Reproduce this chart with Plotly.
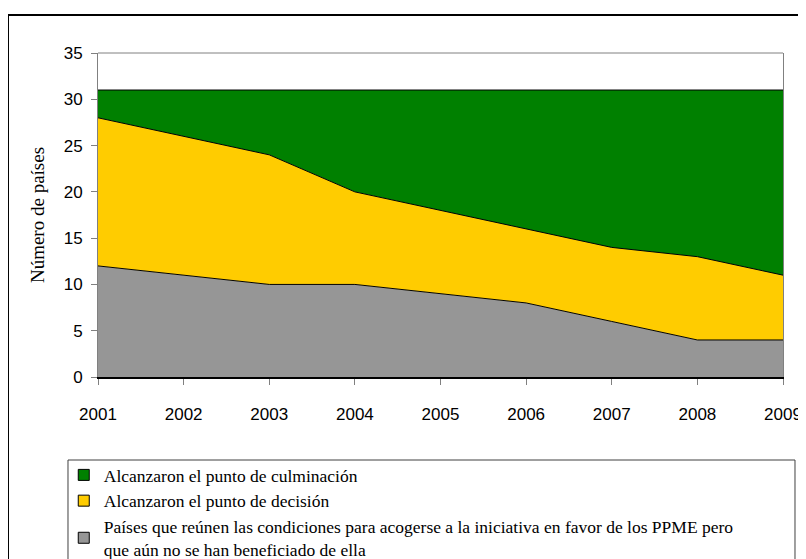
import plotly.graph_objects as go

# Countries by HIPC stage, 2001-2009 (stacked)
years = [2001, 2002, 2003, 2004, 2005, 2006, 2007, 2008, 2009]
eligible = [12, 11, 10, 10, 9, 8, 6, 4, 4]
decision = [16, 15, 14, 10, 9, 8, 8, 9, 7]
completion = [3, 5, 7, 11, 13, 15, 17, 18, 20]

names = [
    "Países que reúnen las condiciones para acogerse a la iniciativa en favor de los PPME pero<br>que aún no se han beneficiado de ella",
    "Alcanzaron el punto de decisión",
    "Alcanzaron el punto de culminación",
]
colors = ["#969696", "#FFCC00", "#008000"]

serif = "Liberation Serif, Times New Roman, serif"
sans = "Liberation Sans, Arial, sans-serif"

fig = go.Figure()
for vals, name, color in zip([eligible, decision, completion], names, colors):
    fig.add_trace(go.Scatter(
        x=years, y=vals, name=name, mode="lines",
        stackgroup="one", fillcolor=color,
        line=dict(color="black", width=1),
        showlegend=False,
    ))

# legend entries with small square swatches
for name, color in zip(names, colors):
    fig.add_trace(go.Scatter(
        x=[None], y=[None], name=name, mode="markers",
        marker=dict(symbol="square", size=11, color=color, line=dict(color="black", width=1)),
    ))

# page body adds an 8px offset, margins compensate for it
fig.update_layout(
    width=806, height=559,
    margin=dict(l=90, r=31, t=45, b=190, autoexpand=False),
    plot_bgcolor="white", paper_bgcolor="white",
    showlegend=True,
    legend=dict(
        traceorder="reversed",
        x=-0.05, xanchor="left", y=-0.247, yanchor="top",
        font=dict(family=serif, size=17.5, color="black"),
        tracegroupgap=0, itemwidth=30,
        bgcolor="rgba(0,0,0,0)",
    ),
)

fig.update_xaxes(
    range=[2001, 2009], tickvals=years, automargin=False,
    showline=True, linecolor="black", linewidth=1.5,
    ticks="outside", ticklen=6, tickcolor="#808080",
    ticklabelstandoff=15, showgrid=False, zeroline=False,
    tickfont=dict(family=sans, size=17, color="black"),
)
fig.update_yaxes(
    range=[0, 35], dtick=5, automargin=False,
    showline=True, linecolor="#808080", linewidth=1, mirror=True,
    ticks="outside", ticklen=6, tickcolor="#808080",
    ticklabelstandoff=5,
    showgrid=False, zeroline=False,
    tickfont=dict(family=sans, size=17, color="black"),
    title=dict(text="Número de países", standoff=14,
               font=dict(family=serif, size=19, color="black")),
)

# top border of plot area
fig.add_shape(type="line", xref="x domain", yref="y domain", x0=0, x1=1, y0=1, y1=1,
              line=dict(color="#808080", width=1))
# legend box
fig.add_shape(type="rect", xref="paper", yref="paper", x0=-0.0438, x1=1.0175, y0=-0.7, y1=-0.2562,
              line=dict(color="#404040", width=1))
# outer frame
fig.add_shape(type="rect", xref="paper", yref="paper", x0=-0.1314, x1=1.3, y0=-1.0, y1=1.1173,
              line=dict(color="black", width=2))

fig.write_html("out.html")
